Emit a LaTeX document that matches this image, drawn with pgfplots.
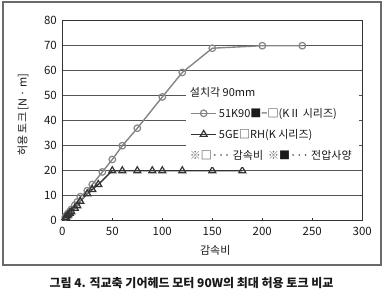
\documentclass[border=0pt]{standalone}
\usepackage{fontspec}
\setmainfont{Noto Sans CJK KR}
\usepackage{pgfplots}
\pgfplotsset{compat=1.18}
\definecolor{cgray}{HTML}{858585}
\definecolor{cdark}{HTML}{333333}
\definecolor{gridc}{HTML}{555555}
\definecolor{framec}{HTML}{6A6A6A}
\begin{document}
\begin{tikzpicture}
\path (-62.3pt,-77.3pt) rectangle (320.7pt,220.7pt);
\begin{axis}[
  name=ax, at={(0pt,0pt)}, anchor=south west,
  scale only axis, width=300pt, height=200pt, clip=false,
  xmin=0, xmax=300, ymin=0, ymax=80,
  xtick={0,50,...,300}, ytick={0,10,...,80},
  xtick pos=lower, ytick pos=left,
  tick align=inside, x tick style={cdark, line width=0.6pt}, y tick style={draw=none},
  major tick length=2.5pt,
  ymajorgrids, grid style={gridc, line width=0.9pt},
  axis line style={cdark, line width=1.1pt},
  /pgf/number format/assume math mode=true,
  tick label style={font=\fontsize{11.5}{13}\selectfont, text=black!90},
  xticklabel style={yshift=-3pt},
  yticklabel style={xshift=-2pt},
  xlabel={감속비}, ylabel={허용 토크 [N · m]},
  label style={font=\fontsize{11}{13}\selectfont, text=black!90},
  x label style={at={(axis description cs:0.51,-0.15)}, anchor=center},
  y label style={at={(axis description cs:-0.131,0.53)}, anchor=center},
  legend cell align=left,
  legend style={at={(rel axis cs:0.41,0.70)}, anchor=north west, draw=none, fill=white,
    font=\fontsize{11}{13}\selectfont, text=black!90, row sep=6.5pt, inner xsep=5pt, inner ysep=4pt},
  legend image code/.code={\draw[mark repeat=2,mark phase=2] plot coordinates {(0pt,0pt) (12.5pt,0pt) (25pt,0pt)};},
]
\draw[framec, line width=1.2pt] (rel axis cs:-0.1977,-0.2215) rectangle (rel axis cs:1.0623,1.0935);
\addlegendimage{empty legend}
\addlegendentry{\hspace{-29pt}설치각 90mm}
\addplot[cgray, line width=1.4pt, mark=o, mark size=3.3pt, mark options={fill=white, line width=1.2pt}] coordinates {
(3,1.5)(3.6,1.8)(5,2.5)(6,3)(7.5,3.7)(9,4.5)(12.5,6.2)(15,7.5)(18,9.6)(25,12)(30,14.5)(40,19.5)(50,24.5)(60,30)(75,37)(100,49.5)(120,59.3)(150,69)(200,70)(240,70)};
\addlegendentry{51K90■−□(KⅡ  시리즈)}
\addplot[cdark, line width=1.4pt, mark=triangle, mark size=4pt, mark options={fill=white, line width=1.2pt}] coordinates {
(3,1.2)(3.6,1.4)(5,2)(6,2.4)(7.5,3)(9,3.6)(12.5,5)(15,6)(18,7.8)(25,10.8)(30,12.5)(36,14.5)(50,20)(60,20)(75,20)(90,20)(100,20)(120,20)(150,20)(180,20)};
\addlegendentry{5GE□RH(K 시리즈)}
\addlegendimage{empty legend}
\addlegendentry{\hspace{-29pt}{\color{black!60}※}□··· 감속비 \ {\color{black!60}※}■··· 전압사양}
\end{axis}
\node[text=black!90] at (129.2pt,-62.6pt) {\fontsize{12}{14}\selectfont\bfseries 그림 4. 직교축 기어헤드 모터 90W의 최대 허용 토크 비교};
\end{tikzpicture}
\end{document}
